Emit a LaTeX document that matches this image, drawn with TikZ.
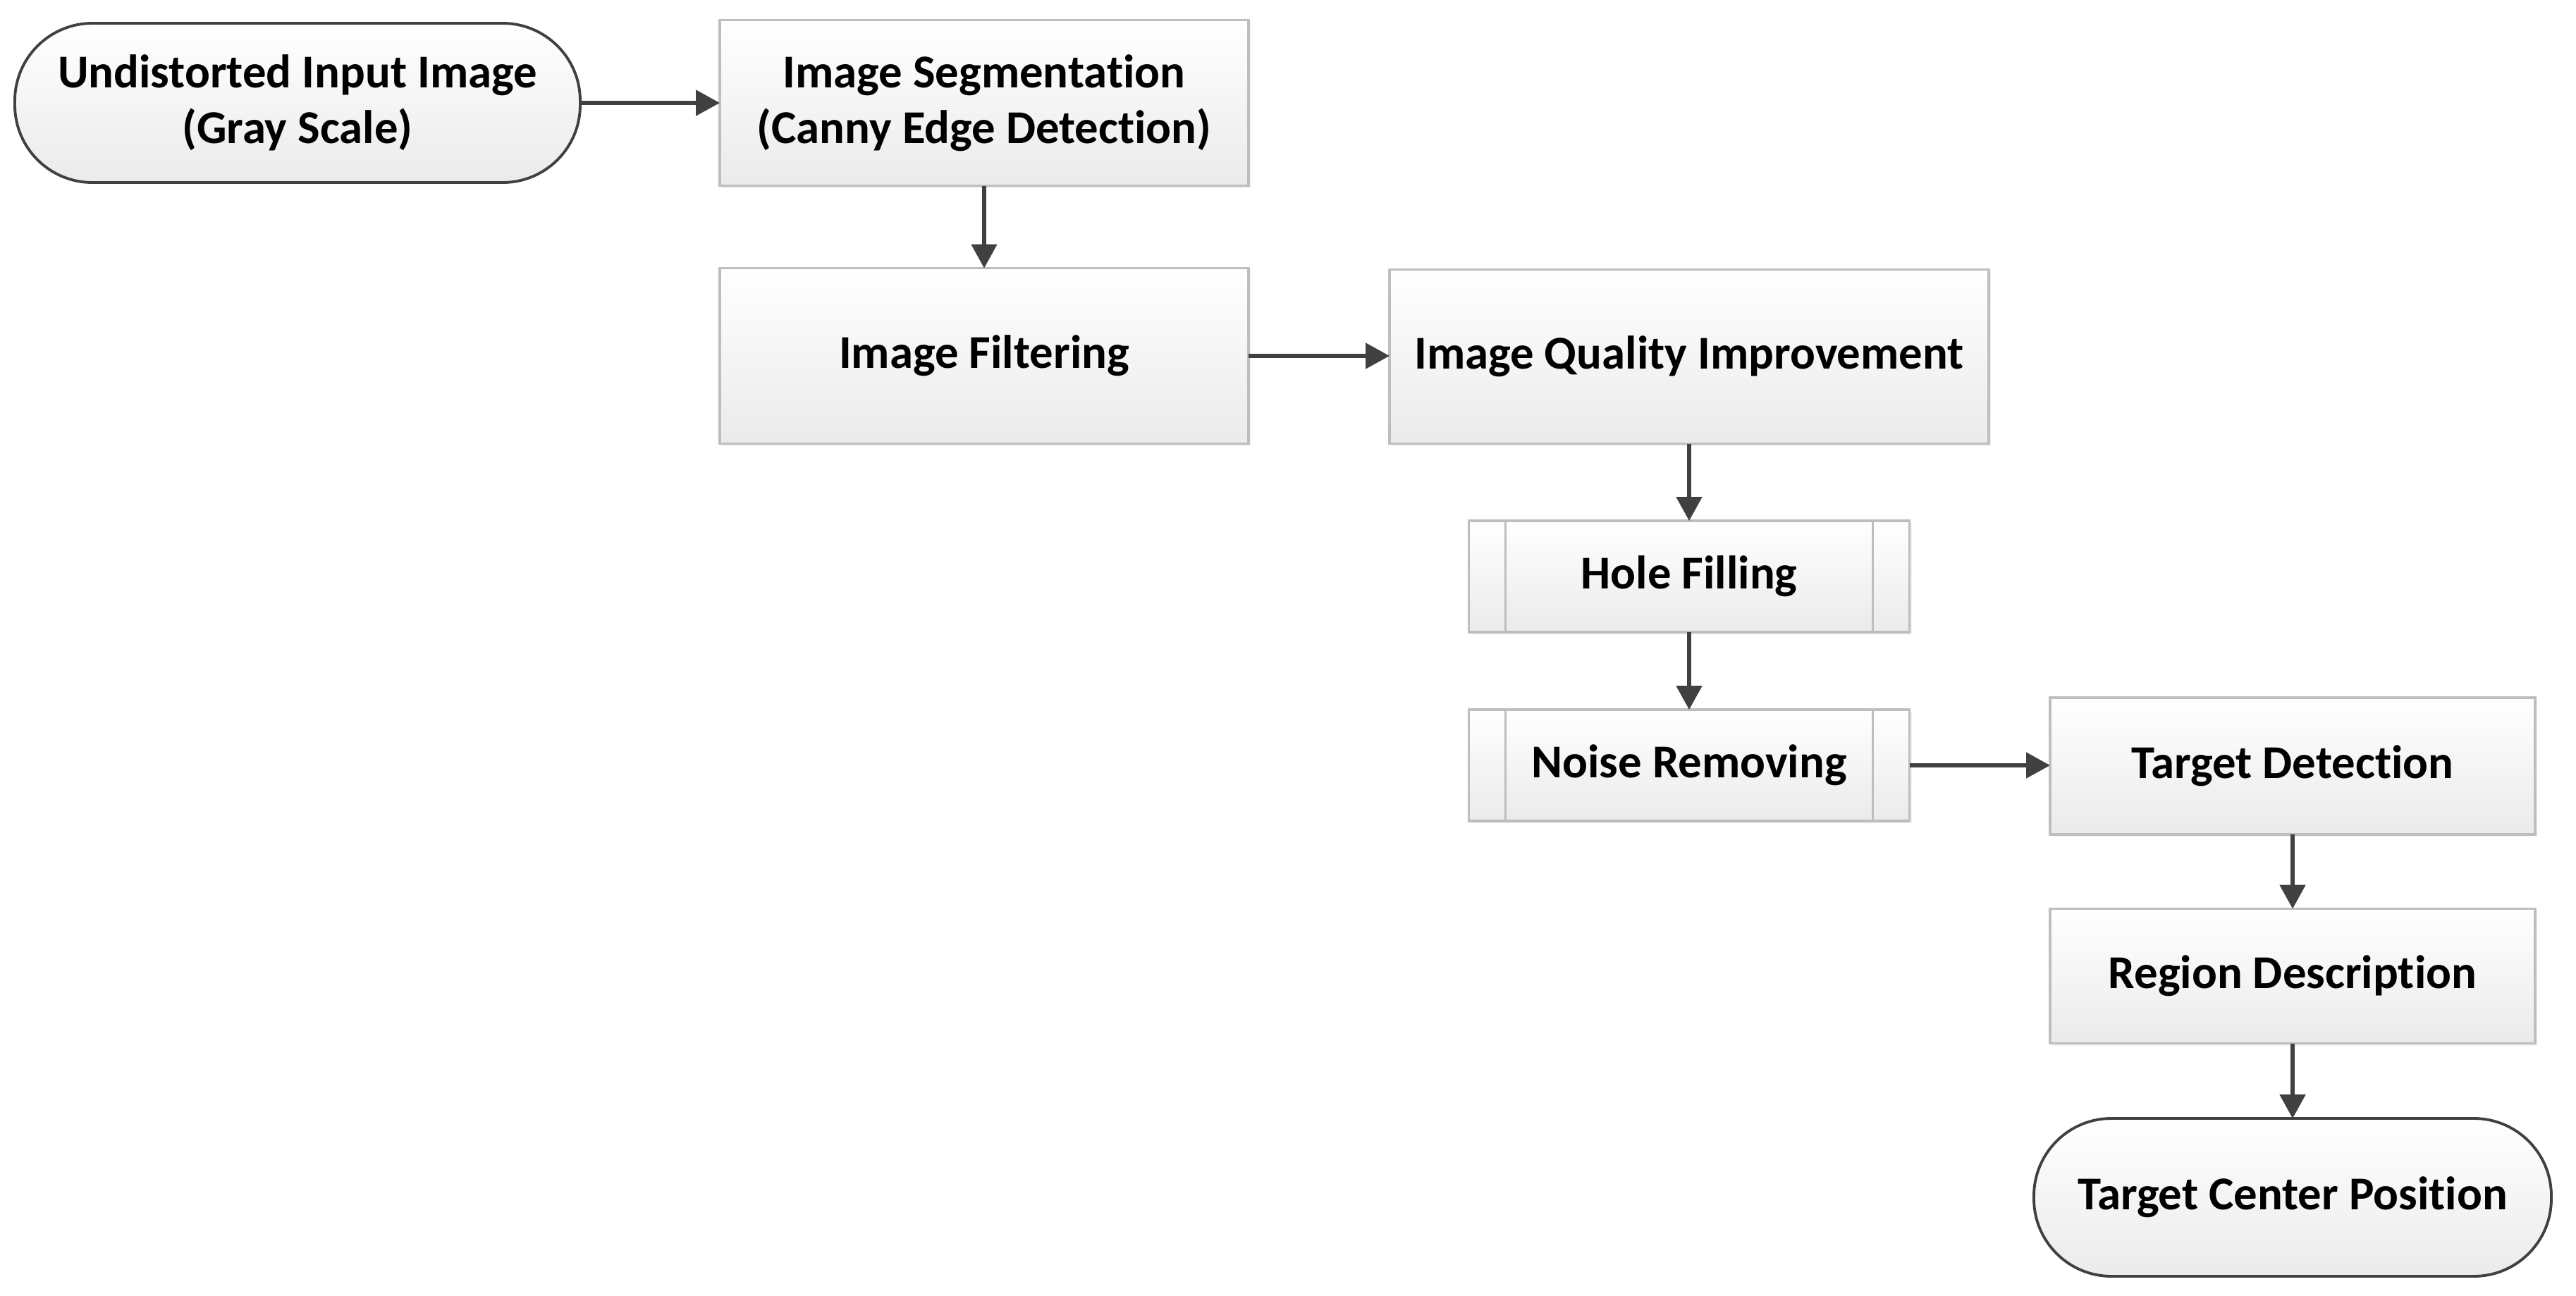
\documentclass[tikz,border=0pt]{standalone}
\usepackage{fontspec}
\setmainfont{Carlito}[Ligatures=NoCommon]
\usetikzlibrary{arrows.meta,shadows}
\definecolor{boxline}{RGB}{190,190,190}
\definecolor{termline}{RGB}{64,64,64}
\definecolor{arrowc}{RGB}{64,64,64}
\tikzset{
  lbl/.style={align=center,font=\fontsize{19}{22.5}\selectfont\bfseries,text=black,inner sep=0pt,outer sep=0pt},
  procbox/.style={lbl,rectangle,draw=boxline,line width=0.9pt,top color=white,bottom color=black!8,
    drop shadow={opacity=0.12,shadow xshift=0.03cm,shadow yshift=-0.03cm}},
  termbox/.style={lbl,rectangle,draw=termline,line width=1.1pt,top color=white,bottom color=black!8,
    rounded corners=1.1cm},
  subproc/.style={procbox,path picture={
    \draw[boxline,line width=0.9pt] ([xshift=0.52cm]path picture bounding box.north west) -- ([xshift=0.52cm]path picture bounding box.south west);
    \draw[boxline,line width=0.9pt] ([xshift=-0.52cm]path picture bounding box.north east) -- ([xshift=-0.52cm]path picture bounding box.south east);}},
  flow/.style={draw=arrowc,line width=1.5pt,-{Triangle[length=0.34cm,width=0.36cm]}}
}
\begin{document}
\begin{tikzpicture}
\useasboundingbox (0,0) rectangle (36.54,-18.39);
\node[termbox,minimum width=8.02cm,minimum height=2.26cm] (start) at (4.22,-1.46) {Undistorted Input Image\\(Gray Scale)};
\node[procbox,minimum width=7.50cm,minimum height=2.35cm] (seg) at (13.96,-1.46) {Image Segmentation\\(Canny Edge Detection)};
\node[procbox,minimum width=7.50cm,minimum height=2.49cm] (filt) at (13.96,-5.05) {Image Filtering};
\node[procbox,minimum width=8.50cm,minimum height=2.47cm] (qual) at (23.96,-5.06) {Image Quality Improvement};
\node[subproc,minimum width=6.25cm,minimum height=1.58cm] (hole) at (23.96,-8.18) {Hole Filling};
\node[subproc,minimum width=6.25cm,minimum height=1.58cm] (noise) at (23.96,-10.86) {Noise Removing};
\node[procbox,minimum width=6.88cm,minimum height=1.94cm] (det) at (32.52,-10.87) {Target Detection};
\node[procbox,minimum width=6.88cm,minimum height=1.91cm] (reg) at (32.52,-13.85) {Region Description};
\node[termbox,minimum width=7.34cm,minimum height=2.24cm] (end) at (32.52,-16.99) {Target Center Position};
\draw[flow] (start.east) -- (seg.west |- start.east);
\draw[flow] (seg.south) -- (filt.north);
\draw[flow] (filt.east) -- (qual.west |- filt.east);
\draw[flow] (qual.south) -- (hole.north);
\draw[flow] (hole.south) -- (noise.north);
\draw[flow] (noise.east) -- (det.west |- noise.east);
\draw[flow] (det.south) -- (reg.north);
\draw[flow] (reg.south) -- (end.north);
\end{tikzpicture}
\end{document}
